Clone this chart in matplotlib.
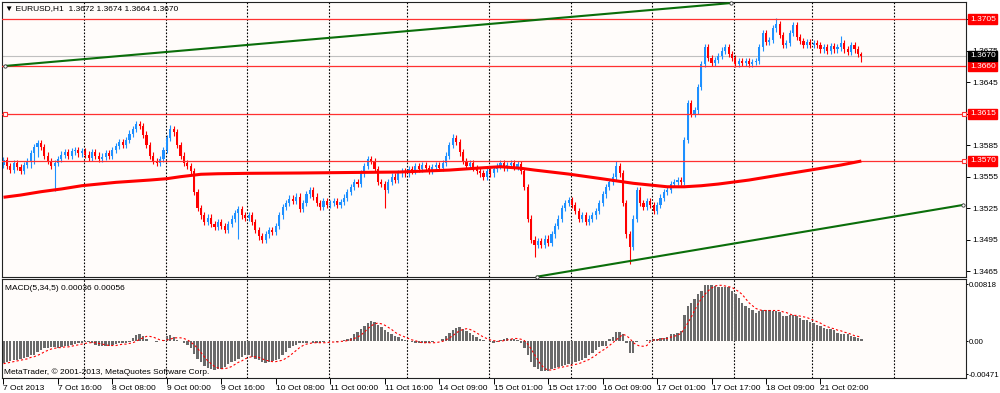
import matplotlib
matplotlib.use('Agg')
import matplotlib.pyplot as plt

W, H = 1000, 393
BASE, PIP = 1.3400, 0.0001

# EURUSD H1 candles, prices in pips above 1.3400, one row per trading day
OPEN = [
    166,171,165,161,168,164,160,166,170,177,183,187,183,175,170,165,168,172,176,178,175,179,180,177,
    179,176,173,178,175,172,174,177,175,180,184,188,185,190,196,200,205,203,195,185,175,170,168,172,
    180,192,200,197,185,175,168,165,160,140,125,118,112,116,110,107,112,108,104,110,115,120,124,118,
    116,118,112,104,98,95,100,104,102,108,118,126,130,134,132,136,124,130,138,142,136,130,126,132,
    128,130,132,128,131,135,140,145,150,148,158,165,172,170,162,150,148,142,150,155,152,158,160,
    158,162,160,165,162,166,163,160,164,166,163,168,175,185,192,188,178,170,165,168,163,160,158,155,
    160,158,162,165,168,163,166,168,164,167,160,145,115,95,90,94,90,96,92,100,108,115,125,130,
    133,128,122,115,118,112,115,118,122,130,138,145,150,155,165,158,130,100,88,115,142,130,126,132,
    128,122,128,135,140,142,148,150,152,150,190,225,215,218,240,262,278,268,263,266,270,275,278,272,
    268,262,265,263,265,262,264,265,278,292,283,285,296,300,290,280,282,292,299,288,284,280,283,
    280,282,280,276,278,275,279,276,278,282,276,274,280,276,272,
]
HIGH = [
    174,174,168,171,171,167,169,173,180,186,190,190,186,178,173,171,175,179,181,181,182,183,183,182,
    182,179,181,181,178,177,180,180,183,187,191,191,193,199,203,208,208,206,198,188,178,173,175,183,
    195,204,203,200,188,178,171,168,163,143,128,121,119,119,113,115,115,111,113,118,123,127,127,121,
    121,121,115,107,101,103,107,107,111,121,129,133,137,137,139,139,133,141,145,145,139,133,135,135,
    133,135,135,134,138,143,148,153,153,161,168,175,175,173,165,153,151,153,158,158,161,163,163,
    165,165,168,168,169,169,166,167,169,169,171,178,188,196,195,191,181,173,171,171,166,163,161,163,
    163,165,168,171,171,169,171,171,170,170,163,148,118,98,97,97,99,99,103,111,118,128,133,136,
    136,131,125,121,121,118,121,125,133,141,148,153,158,170,168,161,133,103,118,145,145,133,135,135,
    131,131,138,143,145,151,153,155,155,193,228,228,221,243,265,281,281,271,269,273,278,281,281,275,
    271,268,268,268,268,267,268,281,295,295,288,299,306,303,293,285,295,302,302,291,287,286,286,
    285,285,283,281,281,282,282,281,289,285,279,283,283,279,274,
]
LOW = [
    163,162,158,158,161,157,157,163,163,167,174,180,172,167,162,141,165,169,173,172,172,176,174,174,
    173,170,170,172,169,169,171,172,172,177,181,182,182,187,193,197,200,192,182,172,167,165,165,169,
    177,189,194,182,172,165,162,157,137,122,115,109,109,107,104,104,105,101,101,107,112,96,115,113,
    113,109,101,95,92,92,97,99,99,105,115,123,127,129,129,121,121,127,135,133,127,123,123,125,
    125,127,125,125,128,132,137,142,145,145,155,162,167,159,147,145,125,139,147,149,149,155,155,
    155,157,157,159,159,160,157,157,161,160,160,165,172,182,185,175,167,162,162,160,157,155,152,152,
    155,155,159,162,160,160,163,161,161,157,142,112,92,78,87,87,87,89,89,97,105,112,122,127,
    125,119,112,112,109,109,112,115,119,127,135,142,147,152,155,127,97,72,85,112,127,123,123,125,
    119,119,125,132,137,139,145,147,147,147,187,212,212,215,237,259,265,260,260,263,267,272,269,265,
    259,259,260,260,259,259,261,262,275,280,280,282,293,287,277,277,279,289,285,281,277,277,277,
    277,277,273,273,272,272,273,273,275,273,271,271,273,269,264,
]
CLOSE = [
    171,165,161,168,164,160,166,170,177,183,187,183,175,170,165,168,172,176,178,175,179,180,177,179,
    176,173,178,175,172,174,177,175,180,184,188,185,190,196,200,205,203,195,185,175,170,168,172,180,
    192,200,197,185,175,168,165,160,140,125,118,112,116,110,107,112,108,104,110,115,120,124,118,116,
    118,112,104,98,95,100,104,102,108,118,126,130,134,132,136,124,130,138,142,136,130,126,132,128,
    130,132,128,131,135,140,145,150,148,158,165,172,170,162,150,148,142,150,155,152,158,160,158,
    162,160,165,162,166,163,160,164,166,163,168,175,185,192,188,178,170,165,168,163,160,158,155,160,
    158,162,165,168,163,166,168,164,167,160,145,115,95,90,94,90,96,92,100,108,115,125,130,133,
    128,122,115,118,112,115,118,122,130,138,145,150,155,165,158,130,100,88,115,142,130,126,132,128,
    122,128,135,140,142,148,150,152,150,190,225,215,218,240,262,278,268,263,266,270,275,278,272,268,
    262,265,263,265,262,264,265,278,292,283,285,296,300,290,280,282,292,299,288,284,280,283,280,
    282,280,276,278,275,279,276,278,282,276,274,280,276,272,270,
]

# slow moving average (red), read at a few bars
MA_BAR = [0,5,11,17,23,33,43,48,52,58,63,72,87,102,116,131,140,146,152,156,166,175,185,195,200,205,210,219,228,237,246,252]
MA_VAL = [135.3,137.4,140.6,143.2,146.3,149.5,151.7,153,154.9,157.2,157.7,158.1,158.4,158.9,159.3,161.2,
          163.2,164.4,162.9,161.2,157.4,153.3,148.6,145.3,145.3,146.3,147.9,151.7,156.5,161.2,166,169.8]

# MACD(5,34,5) histogram and signal, in pips
MACD = [
    -31,-30,-28,-27,-26,-25,-24,-22,-20,-19,-15,-12,-10,-9,-8,-8,-9,-8,-7,-6,-5,-4,-3,-2,
    -1,-1,-3,-5,-6,-7,-7,-6,-5,-4,-3,-3,-2,-1,5,9,11,8,3,1,0,-1,0,2,
    7,9,6,2,0,-2,-5,-10,-18,-25,-30,-35,-38,-40,-41,-40,-39,-36,-33,-30,-28,-25,-22,-20,
    -20,-22,-25,-27,-30,-31,-30,-28,-27,-25,-20,-15,-10,-7,-5,-3,-3,-2,0,-2,-3,-2,-1,0,
    1,0,-1,0,2,3,5,10,14,18,22,26,29,28,24,20,16,13,10,8,6,4,2,
    0,-1,-2,-3,-3,-2,-2,-1,0,1,4,8,12,16,19,20,18,15,12,9,6,4,2,0,
    -1,-2,-1,2,4,5,4,3,2,-2,-10,-20,-30,-36,-40,-42,-43,-42,-40,-38,-36,-35,-34,-33,
    -32,-30,-28,-26,-24,-20,-16,-12,-8,-7,-6,4,6,13,14,11,-2,-16,-17,-1,0,1,2,2,
    3,3,5,5,6,10,11,12,15,38,50,55,60,67,72,80,81,81,79,78,78,77,77,72,
    67,62,55,50,47,45,41,43,45,45,45,44,44,42,36,36,37,37,36,34,31,30,28,
    26,23,22,19,18,17,16,12,11,10,10,7,6,5,4,
]
SIGNAL = [
    -32,-31,-30,-29,-28,-27,-26,-25,-23,-22,-20,-18,-15,-13,-11,-10,-9,-9,-8,-8,-7,-6,-5,-4,
    -3,-2,-2,-2,-3,-4,-5,-6,-6,-6,-5,-4,-4,-3,-2,0,3,5,7,7,6,4,2,1,
    2,3,5,5,5,4,2,-1,-5,-10,-16,-22,-28,-32,-36,-38,-39,-39,-38,-36,-33,-30,-28,-25,
    -23,-22,-22,-23,-25,-27,-28,-29,-29,-28,-27,-24,-21,-17,-13,-9,-6,-4,-3,-2,-2,-2,-2,-2,
    -1,-1,-1,0,0,1,2,4,6,9,13,18,22,25,26,25,23,20,17,13,10,8,6,
    4,2,1,-1,-2,-2,-2,-2,-2,-1,0,2,5,8,12,15,17,18,17,15,12,9,6,4,
    2,1,0,0,1,2,3,4,4,3,1,-4,-11,-19,-27,-34,-39,-41,-41,-40,-38,-37,-36,-35,
    -34,-33,-32,-30,-28,-26,-23,-20,-16,-13,-10,-6,-2,2,6,10,8,4,-2,-5,-7,-7,-6,0,
    2,2,3,4,4,6,7,9,11,18,26,34,44,53,61,67,72,76,79,80,80,79,78,77,
    74,71,67,61,55,51,47,45,44,44,44,44,44,44,42,41,39,37,37,36,35,34,32,
    30,28,26,23,21,19,18,16,15,13,12,10,8,7,6,
]

LEVELS = [1.3705, 1.3660, 1.3615, 1.3570]
BID = 1.3670
PRICE_TICKS = [1.3465, 1.3495, 1.3525, 1.3555, 1.3585, 1.3615, 1.3645, 1.3675, 1.3705]
UP_TREND = ([0.4, 213.7], [1.36603, 1.37202])
LOW_TREND = ([156.7, 281.9], [1.34597, 1.35280])
DAY_STARTS = [24, 48, 72, 96, 119, 143, 167, 191, 215, 238, 262]
TIME_BARS = [0, 16, 32, 48, 64, 80, 96, 112, 128, 144, 160, 176, 192, 208, 224, 240]
TIME_LABELS = ['7 Oct 2013', '7 Oct 16:00', '8 Oct 08:00', '9 Oct 00:00', '9 Oct 16:00', '10 Oct 08:00',
               '11 Oct 00:00', '11 Oct 16:00', '14 Oct 09:00', '15 Oct 01:00', '15 Oct 17:00',
               '16 Oct 09:00', '17 Oct 01:00', '17 Oct 17:00', '18 Oct 09:00', '21 Oct 02:00']

BG = '#FFFCFA'
BULL, BEAR = '#1E90FF', '#FF0000'
LEVEL_RED = '#FF3030'
GREEN = '#0A6E0A'
FS = 6.0

plt.rcParams['font.family'] = ['Liberation Sans', 'DejaVu Sans']


def px_box(l, t, r, b):
    return [l / W, 1 - b / H, (r - l) / W, (b - t) / H]


def price(v):
    return BASE + v * PIP


fig = plt.figure(figsize=(W / 100, H / 100), dpi=100, facecolor='white')
main = fig.add_axes(px_box(2, 2, 966, 277), facecolor=BG)
macd = fig.add_axes(px_box(2, 279, 966, 378), facecolor=BG, sharex=main)

# candles
idx = list(range(len(CLOSE)))
cols = [BULL if c >= o else BEAR for o, c in zip(OPEN, CLOSE)]
main.vlines(idx, [price(v) for v in LOW], [price(v) for v in HIGH], colors=cols, lw=0.8, zorder=2)
bottoms = [price(min(o, c)) for o, c in zip(OPEN, CLOSE)]
heights = [max(abs(c - o), 0.4) * PIP for o, c in zip(OPEN, CLOSE)]
main.bar(idx, heights, bottom=bottoms, width=0.62, color=cols, linewidth=0, zorder=2)

# horizontal levels and bid line
for lv in LEVELS:
    main.axhline(lv, color=LEVEL_RED, lw=0.9, zorder=3)
main.axhline(BID, color='#C0C0C0', lw=0.8, zorder=1)
main.plot([282.3, 282.3], [1.3615, 1.3570], ls='none', marker='s', ms=2.6,
          mfc='white', mec=LEVEL_RED, mew=0.8, zorder=4, clip_on=False)
main.plot([0.4], [1.3615], ls='none', marker='s', ms=2.6, mfc='white', mec=LEVEL_RED, mew=0.8, zorder=4)

# moving average
main.plot(MA_BAR, [price(v) for v in MA_VAL], color='#FF0000', lw=2.2, zorder=4, solid_capstyle='butt')

# trend lines
for xs, ys in (UP_TREND, LOW_TREND):
    main.plot(xs, ys, color=GREEN, lw=1.5, zorder=4, clip_on=False)
    main.plot(xs, ys, ls='none', marker='o', ms=2.4, mfc='white', mec='#333333', mew=0.6,
              zorder=5, clip_on=False)

# MACD panel
macd.bar(idx, MACD, width=0.7, color='#6A6A6A', linewidth=0, zorder=2)
macd.plot(idx, SIGNAL, color='#FF0000', lw=0.8, ls=(0, (2, 2)), zorder=3)

# day separators
for ax in (main, macd):
    for d in DAY_STARTS:
        ax.axvline(d - 0.4, color='black', lw=0.8, ls=(0, (1.5, 1.5)), zorder=1)
    for s in ax.spines.values():
        s.set_color('#222222')
        s.set_linewidth(0.8)

main.set_xlim(-0.44, 282.75)
main.set_ylim(1.34594, 1.37212)
macd.set_ylim(-52.4, 89)

# tick labels hidden under the level boxes are left blank
boxed = [round(v, 4) for v in LEVELS]
main.yaxis.tick_right()
main.set_yticks(PRICE_TICKS)
main.set_yticklabels(['' if round(p, 4) in boxed else f'{p:.4f}' for p in PRICE_TICKS])
main.tick_params(axis='y', length=3, pad=1.5, labelsize=FS, width=0.7)
main.tick_params(axis='x', bottom=False, labelbottom=False)

macd.yaxis.tick_right()
macd.set_yticks([81.8, 0, -47.1])
macd.set_yticklabels(['0.00818', '0.00', '-0.00471'])
macd.tick_params(axis='y', length=1.5, pad=0.5, labelsize=5.6, width=0.7)

macd.set_xticks(TIME_BARS)
macd.set_xticklabels(TIME_LABELS)
for t in macd.get_xticklabels():
    t.set_ha('left')
macd.tick_params(axis='x', length=4, pad=1, labelsize=FS, width=0.7)

# price labels on the right
ytr = main.get_yaxis_transform()
for lv in LEVELS:
    main.text(1.004, lv, f'{lv:.4f}', transform=ytr, color='white', fontsize=FS, va='center', ha='left',
              bbox=dict(boxstyle='square,pad=0.18', fc='#FF0000', ec='#FF0000'), zorder=6, clip_on=False)
main.text(1.004, BID, f'{BID:.4f}', transform=ytr, color='white', fontsize=FS, va='center', ha='left',
          bbox=dict(boxstyle='square,pad=0.18', fc='black', ec='black'), zorder=6, clip_on=False)

# captions
fig.text(5 / W, 1 - 9 / H, '\u25bc EURUSD,H1  1.3672 1.3674 1.3664 1.3670', fontsize=FS, va='center', ha='left')
fig.text(5 / W, 1 - 288 / H, 'MACD(5,34,5) 0.00036 0.00056', fontsize=FS, va='center', ha='left')
fig.text(4 / W, 1 - 372 / H, 'MetaTrader, \u00a9 2001-2013, MetaQuotes Software Corp.', fontsize=FS,
         va='center', ha='left')

fig.savefig('out.png', dpi=100, facecolor='white')
